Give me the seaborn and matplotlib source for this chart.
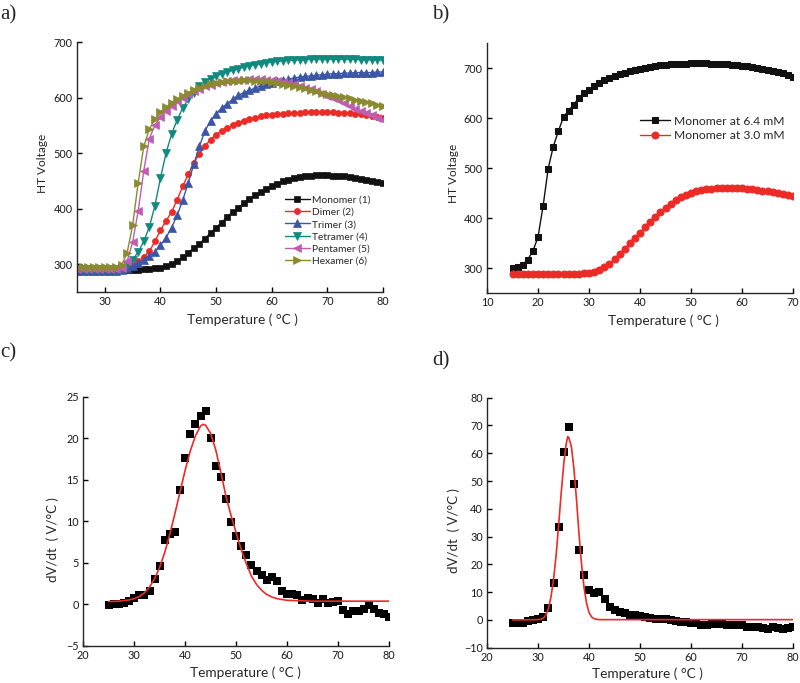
import matplotlib
matplotlib.use("Agg")
import matplotlib.pyplot as plt
import seaborn as sns

# ---- panel a: HT voltage of the oligomers ----
temps_a = list(range(25, 81))
monomer_a = [289, 289, 289, 289, 289, 289, 289, 289, 290, 290, 290,
             290, 291, 292, 293, 294, 297, 301, 306, 313, 321, 329, 337, 346, 356,
             366, 375, 385, 394, 402, 410, 417, 424, 430, 436, 441, 445, 449, 452,
             455, 457, 458, 459, 460, 460, 460, 459, 459, 458, 457, 455, 454, 452,
             450, 448, 446]
dimer_a = [290, 290, 290, 290, 290, 290, 290, 290, 292, 295, 299, 305, 313, 323,
           341, 361, 378, 394, 416, 440, 462, 482, 499, 513, 524, 533, 540, 546,
           550, 554, 558, 561, 564, 566, 568, 569, 570, 571, 572, 573, 573, 574,
           574, 574, 574, 574, 574, 573, 573, 572, 571, 570, 569, 567, 565, 563]
trimer_a = [288, 288, 288, 288, 288, 288, 288, 288, 290, 293, 297, 302, 308, 314,
            322, 334, 348, 366, 388, 415, 447, 480, 512, 540, 558, 571, 581, 589,
            597, 604, 609, 613, 617, 621, 624, 627, 629, 631, 633, 635, 637, 638,
            639, 640, 641, 642, 643, 643, 644, 644, 645, 645, 645, 645, 646, 646]
tetramer_a = [291, 291, 291, 291, 291, 291, 291, 291, 293, 298, 308, 322, 341, 367,
              405, 455, 500, 534, 560, 581, 597, 609, 620, 628, 634, 639, 643, 646,
              649, 652, 655, 657, 659, 661, 663, 664, 665, 666, 667, 667, 668, 668,
              669, 669, 669, 669, 669, 669, 669, 669, 669, 668, 668, 668, 668, 667]
pentamer_a = [292, 292, 292, 292, 292, 292, 292, 292, 294, 305, 340, 396, 468, 526,
              550, 565, 576, 585, 593, 600, 606, 611, 616, 620, 623, 626, 628, 630,
              631, 632, 632, 633, 633, 633, 632, 631, 630, 628, 626, 624, 621, 618,
              615, 611, 607, 603, 599, 595, 590, 585, 580, 576, 572, 568, 564, 560]
hexamer_a = [295, 295, 295, 295, 295, 295, 295, 295, 298, 320, 370, 447, 512, 543,
             561, 574, 583, 590, 597, 603, 609, 614, 618, 621, 624, 626, 628, 629,
             630, 630, 631, 631, 630, 630, 629, 628, 627, 625, 623, 621, 619, 617,
             614, 612, 609, 607, 605, 603, 601, 599, 596, 594, 592, 590, 587, 585]
names_a = ["Monomer (1)", "Dimer (2)", "Trimer (3)", "Tetramer (4)",
           "Pentamer (5)", "Hexamer (6)"]

# ---- panel b: monomer at two concentrations ----
temps_b = list(range(15, 71))
mono_64 = [301, 302, 307, 317, 334, 362, 424, 499, 543, 574, 602, 615, 627, 640,
           651, 657, 665, 670, 676, 681, 685, 688, 691, 694, 697, 699, 701, 703,
           704, 706, 707, 708, 708, 709, 709, 710, 710, 710, 710, 709, 709, 709,
           708, 707, 706, 705, 704, 702, 701, 699, 697, 695, 693, 690, 687, 683]
mono_30 = [289, 289, 289, 289, 289, 289, 289, 289, 289, 289, 289, 289, 289, 289,
           290, 291, 293, 297, 302, 309, 318, 328, 339, 350, 361, 371, 382, 393,
           403, 413, 421, 429, 436, 442, 447, 451, 454, 456, 458, 459, 460, 460,
           461, 461, 461, 460, 459, 458, 457, 455, 454, 452, 450, 448, 446, 445]
names_b = ["Monomer at 6.4 mM", "Monomer at 3.0 mM"]

# ---- panel c: derivative + fit ----
temps_c = list(range(25, 81))
dvdt_c = [-0.1, 0.0, 0.1, 0.2, 0.4, 0.8, 1.1, 1.2, 1.6, 3.1,
          4.6, 7.8, 8.5, 8.7, 13.8, 17.7, 20.5, 21.8, 22.7, 23.3,
          20.1, 16.7, 15.4, 12.7, 9.9, 8.3, 7.1, 6.0, 4.7, 4.0,
          3.5, 3.0, 3.3, 2.8, 1.6, 1.3, 1.3, 1.1, 0.5, 0.8,
          0.7, 0.2, 0.7, 0.2, 0.3, 0.4, -0.7, -1.2, -0.8, -0.8,
          -0.6, -0.1, -0.5, -1.0, -1.2, -1.5]
fit_t_c = [25, 27, 29, 30, 31, 32, 33, 34, 35, 36, 37, 38, 39, 40, 41, 42, 43,
           43.5, 44, 45, 46, 47, 48, 49, 50, 51, 52, 53, 54, 55, 56, 57, 58,
           60, 65, 80]
fit_c = [0.35, 0.4, 0.55, 0.7, 0.95, 1.4, 2.1, 3.1, 4.5, 6.3, 8.5, 11.0, 13.6,
         16.2, 18.5, 20.3, 21.5, 21.7, 21.6, 20.6, 18.6, 15.9, 13.0, 10.7, 8.6,
         6.6, 4.9, 3.4, 2.4, 1.7, 1.2, 0.9, 0.7, 0.5, 0.4, 0.4]

# ---- panel d: derivative + fit ----
temps_d = list(range(25, 81))
dvdt_d = [-1.0, -1.2, -1.0, -0.4, 0.0, 0.4, 1.2, 4.4, 13.4, 33.6,
          60.3, 69.4, 48.8, 25.0, 16.0, 10.8, 9.6, 10.0, 7.4, 4.8,
          3.7, 3.0, 2.4, 1.9, 1.9, 1.3, 1.0, 0.8, 0.4, 0.2,
          0.5, -0.2, -0.5, -0.6, -0.8, -1.0, -1.2, -1.8, -1.8, -1.4,
          -1.6, -1.4, -1.8, -2.0, -1.8, -2.0, -2.4, -2.4, -2.6, -2.8,
          -3.2, -2.6, -2.8, -3.2, -3.0, -2.4]
fit_t_d = [25, 28, 30, 30.5, 31, 31.5, 32, 32.5, 33, 33.5, 34, 34.5, 35, 35.5,
           35.8, 36, 36.5, 37, 37.5, 38, 38.5, 39, 39.5, 40, 40.5, 41, 41.5,
           42, 50, 80]
fit_d = [0.0, 0.05, 0.1, 0.2, 0.6, 1.7, 4.0, 8.2, 14.4, 23.0, 34.0, 45.5, 56.0,
         63.5, 66.0, 65.6, 62.5, 54.5, 43.5, 31.0, 20.0, 11.5, 5.8, 2.5, 1.0,
         0.4, 0.2, 0.1, 0.1, 0.1]

colors_a = ["#111111", "#ec2a26", "#3b56a6", "#108a7f", "#c25cb3", "#8c8a30"]
markers_a = ["s", "o", "^", "v", "<", ">"]

sns.set_style("ticks")
plt.rcParams["font.family"] = ["Lato", "DejaVu Sans"]
plt.rcParams["axes.linewidth"] = 1.0
plt.rcParams["xtick.direction"] = "in"
plt.rcParams["ytick.direction"] = "in"

fig = plt.figure(figsize=(8, 6.83), dpi=100)
ax_a = fig.add_axes([0.09625, 0.5725, 0.3825, 0.366])
ax_b = fig.add_axes([0.60875, 0.571, 0.3825, 0.366])
ax_c = fig.add_axes([0.104, 0.0542, 0.3825, 0.3646])
ax_d = fig.add_axes([0.609, 0.0517, 0.3825, 0.366])


def style_axes(ax, xlabel, ylabel, xl, yl, ysize=8.5):
    sns.despine(ax=ax)
    ax.tick_params(length=3.5, width=1, labelsize=7.8, pad=3, color="black",
                   labelcolor="#1a1a1a")
    ax.set_xlabel(xlabel, fontsize=9.8)
    ax.set_ylabel(ylabel, fontsize=ysize, va="center", ha="center")
    ax.xaxis.set_label_coords(*xl)
    ax.yaxis.set_label_coords(*yl)


# a
series_a = [monomer_a, dimer_a, trimer_a, tetramer_a, pentamer_a, hexamer_a]
for vals, name, col, mk in zip(series_a, names_a, colors_a, markers_a):
    ms = 4.4 if mk in ("s", "o") else 5.2
    sns.lineplot(x=temps_a, y=vals, ax=ax_a, color=col, marker=mk, markersize=ms,
                 markeredgecolor=col, markeredgewidth=0.5, linewidth=1.0,
                 label=name)
ax_a.set_xlim(25, 80)
ax_a.set_ylim(250, 700)
ax_a.set_xticks([30, 40, 50, 60, 70, 80])
ax_a.set_yticks([300, 400, 500, 600, 700])
ax_a.legend(loc="upper left", bbox_to_anchor=(0.68, 0.385), frameon=False,
            fontsize=7.4, borderpad=0, borderaxespad=0, handlelength=2.4,
            handletextpad=0.25, labelspacing=0.28)
style_axes(ax_a, "Temperature ( °C )", "HT Voltage", (0.54, -0.085), (-0.114, 0.516))

# b
sns.lineplot(x=temps_b, y=mono_64, ax=ax_b, color="#111111", marker="s",
             markersize=4.8, markeredgecolor="#111111", linewidth=1.0,
             label=names_b[0])
sns.lineplot(x=temps_b, y=mono_30, ax=ax_b, color="#ec2a26", marker="o",
             markersize=5.0, markeredgecolor="#ec2a26", linewidth=1.0,
             label=names_b[1])
ax_b.set_xlim(10, 70)
ax_b.set_ylim(250, 750)
ax_b.set_xticks([10, 20, 30, 40, 50, 60, 70])
ax_b.set_yticks([300, 400, 500, 600, 700])
ax_b.legend(loc="upper left", bbox_to_anchor=(0.5, 0.71), frameon=False,
            fontsize=8.7, borderpad=0, borderaxespad=0, handlelength=2.5,
            handletextpad=0.3, labelspacing=0.3)
style_axes(ax_b, "Temperature ( °C )", "HT Voltage", (0.575, -0.085), (-0.111, 0.48))

# c
sns.scatterplot(x=temps_c, y=dvdt_c, ax=ax_c, marker="s", s=27, color="black",
                linewidth=0, zorder=2)
sns.lineplot(x=fit_t_c, y=fit_c, ax=ax_c, color="#ec2a26", linewidth=1.2, zorder=3)
ax_c.set_xlim(20, 80)
ax_c.set_ylim(-5, 25)
ax_c.set_xticks([20, 30, 40, 50, 60, 70, 80])
ax_c.set_yticks([-5, 0, 5, 10, 15, 20, 25])
style_axes(ax_c, "Temperature ( °C )", "dV/dt  ( V/°C )", (0.531, -0.083),
           (-0.098, 0.426), ysize=9.5)

# d
sns.scatterplot(x=temps_d, y=dvdt_d, ax=ax_d, marker="s", s=27, color="black",
                linewidth=0, zorder=2)
sns.lineplot(x=fit_t_d, y=fit_d, ax=ax_d, color="#ec2a26", linewidth=1.2, zorder=3)
ax_d.set_xlim(20, 80)
ax_d.set_ylim(-10, 80)
ax_d.set_xticks([20, 30, 40, 50, 60, 70, 80])
ax_d.set_yticks([-10, 0, 10, 20, 30, 40, 50, 60, 70, 80])
style_axes(ax_d, "Temperature ( °C )", "dV/dt  ( V/°C )", (0.523, -0.078),
           (-0.111, 0.47), ysize=9.5)

for txt, x, y in [("a)", 0.0, 0.993), ("b)", 0.54, 0.993),
                  ("c)", 0.0, 0.497), ("d)", 0.54, 0.486)]:
    fig.text(x, y, txt, fontsize=15, family="Liberation Serif", va="top", ha="left")

fig.savefig("out.png", dpi=100)
